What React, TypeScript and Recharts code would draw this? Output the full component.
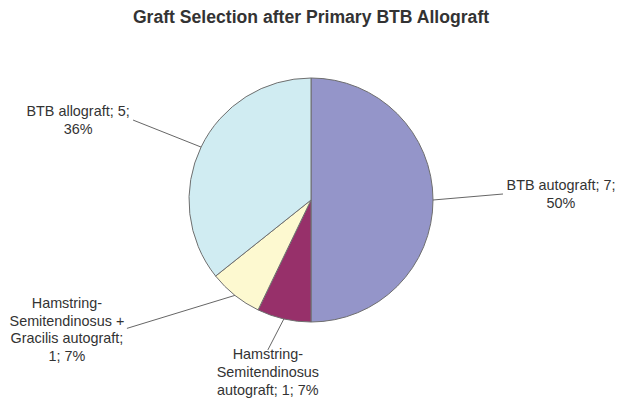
import { PieChart, Pie, Cell } from 'recharts';

const categories = [
  'BTB autograft',
  'Hamstring-Semitendinosus autograft',
  'Hamstring-Semitendinosus + Gracilis autograft',
  'BTB allograft',
];
const counts = [7, 1, 1, 5];
const percentLabels = ['50%', '7%', '7%', '36%'];

// label text lines as they wrap in the original
const labelLines = [
  ['BTB autograft; 7;', '50%'],
  ['Hamstring-', 'Semitendinosus', 'autograft; 1; 7%'],
  ['Hamstring-', 'Semitendinosus +', 'Gracilis autograft;', '1; 7%'],
  ['BTB allograft; 5;', '36%'],
];

const COLORS = ['#9495c9', '#97306a', '#fdf9d0', '#d0ecf2'];

// leader end offset from slice edge, then text block center offset from leader end
const LEADER = [
  { dx: 70, dy: -6, tx: 58, ty: 0 },
  { dx: -16, dy: 31, tx: 0, ty: 22 },
  { dx: -108, dy: 33, tx: -60, ty: 1 },
  { dx: -68, dy: -27, tx: -55, ty: 0 },
];

const data = categories.map((name, i) => ({ name, value: counts[i], pct: percentLabels[i] }));

const RADIAN = Math.PI / 180;
const LINE_H = 17.7;

function renderLabel(props: any) {
  const { cx, cy, midAngle, outerRadius, index } = props;
  const sx = cx + outerRadius * Math.cos(-midAngle * RADIAN);
  const sy = cy + outerRadius * Math.sin(-midAngle * RADIAN);
  const l = LEADER[index];
  const ex = sx + l.dx;
  const ey = sy + l.dy;
  const lines = labelLines[index];
  const tx = ex + l.tx;
  const top = ey + l.ty - ((lines.length - 1) * LINE_H) / 2;
  return (
    <g key={`lbl-${index}`}>
      <line x1={sx} y1={sy} x2={ex} y2={ey} stroke="#666" strokeWidth={1} />
      <text
        x={tx}
        y={top}
        textAnchor="middle"
        dominantBaseline="central"
        fontFamily="'Liberation Sans', Arial, sans-serif"
        fontSize={14.4}
        fill="#333"
      >
        {lines.map((t, j) => (
          <tspan key={j} x={tx} y={top + j * LINE_H}>
            {t}
          </tspan>
        ))}
      </text>
    </g>
  );
}

export default function App() {
  return (
    <div style={{ position: 'absolute', left: 0, top: 0, width: 619, height: 415, background: '#fff' }}>
      <div
        style={{
          position: 'absolute',
          left: 0,
          top: 7,
          width: 622,
          textAlign: 'center',
          fontFamily: "'Liberation Sans', Arial, sans-serif",
          fontWeight: 'bold',
          fontSize: 17.6,
          color: '#333',
        }}
      >
        Graft Selection after Primary BTB Allograft
      </div>
      <PieChart width={619} height={415} margin={{ top: 0, right: 0, bottom: 0, left: 0 }}>
        <Pie
          data={data}
          dataKey="value"
          nameKey="name"
          cx={311}
          cy={200}
          outerRadius={122}
          startAngle={90}
          endAngle={-270}
          stroke="#6f6f6f"
          strokeWidth={1}
          label={renderLabel}
          labelLine={false}
          isAnimationActive={false}
        >
          {data.map((d, i) => (
            <Cell key={d.name} fill={COLORS[i]} />
          ))}
        </Pie>
      </PieChart>
    </div>
  );
}
